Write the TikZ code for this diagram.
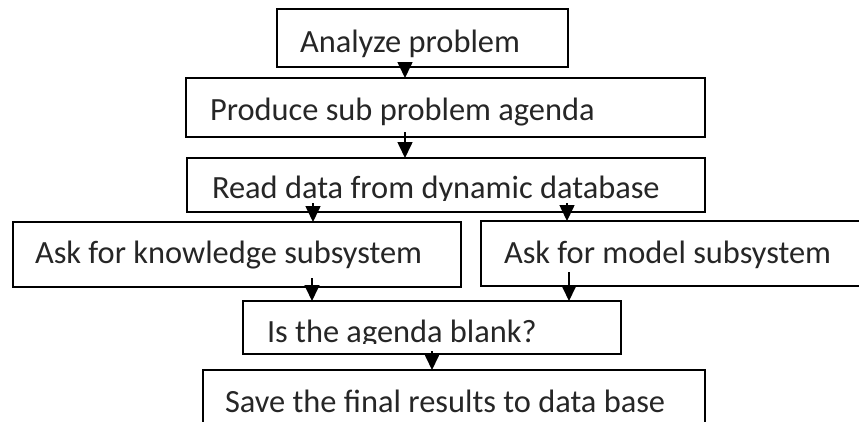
\documentclass[tikz,border=0pt]{standalone}
\usepackage{fontspec}
\setmainfont{Carlito}
\usetikzlibrary{arrows.meta}
\begin{document}
\begin{tikzpicture}[x=1pt,y=-1pt,
  box/.style={draw=black,line width=2pt,inner sep=0pt,outer sep=0pt,anchor=north west},
  lbl/.style={inner sep=0pt,outer sep=0pt,anchor=base west,font=\fontsize{32.4}{35}\selectfont,text=black!85},
  arr/.style={line width=1.6pt,-{Triangle[width=15pt,length=16pt]}}]
\useasboundingbox (0,0) rectangle (859,421);
% boxes
\node[box,minimum width=291pt,minimum height=58pt] (b1) at (277,9) {};
\node[box,minimum width=519pt,minimum height=59pt] (b2) at (186,78) {};
\node[box,minimum width=518pt,minimum height=54pt] (b3) at (187,158) {};
\node[box,minimum width=448pt,minimum height=65pt] (b4) at (13,222) {};
\node[box,minimum width=400pt,minimum height=65pt] (b5) at (481,221) {};
\node[box,minimum width=378pt,minimum height=53pt] (b6) at (243,301) {};
\node[box,minimum width=502pt,minimum height=80pt] (b7) at (203,370) {};
% labels
\node[lbl] (t1) at (300,52) {Analyze problem};
\node[lbl] (t2) at (210,120) {Produce sub problem agenda};
\begin{scope}
\clip (190,160) rectangle (700,200);
\node[lbl] (t3) at (212,198) {Read data from dynamic database};
\end{scope}
\node[lbl] (t4) at (35,263) {Ask for knowledge subsystem};
\node[lbl] (t5) at (504,263) {Ask for model subsystem};
\begin{scope}
\clip (246,304) rectangle (618,343.5);
\node[lbl] (t6) at (267,342) {Is the agenda blank?};
\end{scope}
\node[lbl] (t7) at (225,412) {Save the final results to data base};
% arrow start points
\coordinate (s1) at (405,62);
\coordinate (s2) at (405,132);
\coordinate (s3) at (313,203);
\coordinate (s4) at (567,203);
\coordinate (s5) at (312,278);
\coordinate (s6) at (569,272);
\coordinate (s7) at (432,351);
% connectors
\draw[arr] (s1) -- (b2.north -| s1);
\draw[arr] (s2) -- (b3.north -| s2);
\draw[arr] (s3) -- (b4.north -| s3);
\draw[arr] (s4) -- (b5.north -| s4);
\draw[arr] (s5) -- (b6.north -| s5);
\draw[arr] (s6) -- (b6.north -| s6);
\draw[arr] (s7) -- (b7.north -| s7);
\end{tikzpicture}
\end{document}
